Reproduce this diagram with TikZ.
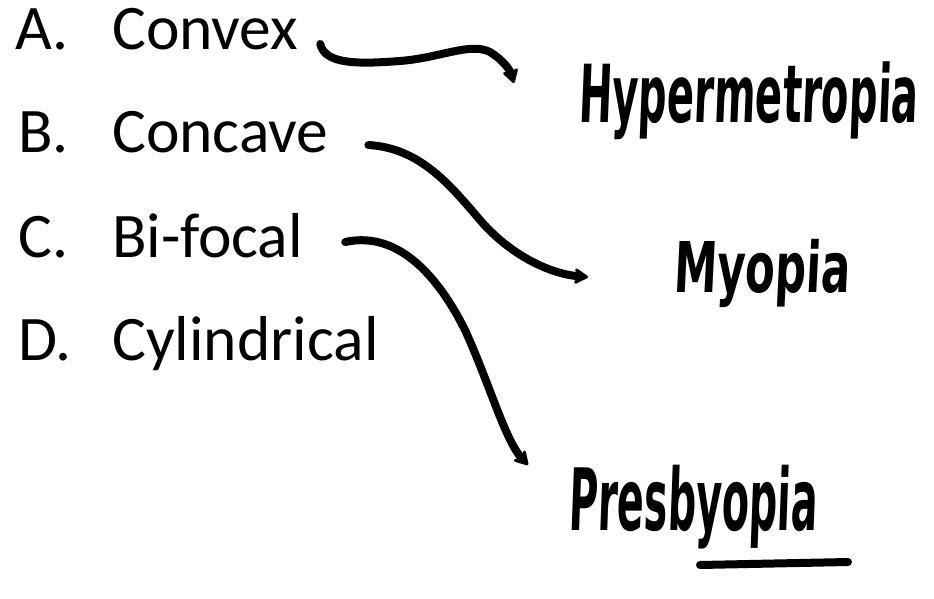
\documentclass[tikz,border=0pt]{standalone}
\usepackage{fontspec}
\setmainfont{Carlito}
\newfontfamily\handfont[FakeSlant=0.08]{DejaVu Sans Bold}
\usetikzlibrary{arrows.meta}

\begin{document}
\begin{tikzpicture}[x=1pt,y=-1pt,
  item/.style={inner sep=0pt,anchor=base west,font=\fontsize{63.5}{63.5}\selectfont},
  hand/.style={inner sep=0pt,anchor=base west,font=\handfont\fontsize{#1}{#1}\selectfont},
  stroke/.style={line width=8pt,line cap=round,line join=round},
  link/.style={stroke,-{Stealth[length=17pt,width=20pt,round]}}]
\useasboundingbox (0,0) rectangle (934,599);

% left column: the lens types
\node[item] (lA) at (15,50)  {A.};
\node[item] (lB) at (18,153) {B.};
\node[item] (lC) at (18,257) {C.};
\node[item] (lD) at (18,360) {D.};
\node[item] (wA) at (112,50)  {Convex};
\node[item] (wB) at (112,153) {Concave};
\node[item] (wC) at (112,257) {Bi-focal};
\node[item] (wD) at (112,360) {Cylindrical};

% right column: handwritten eye defects
\node[hand=80] (hyp) at (578,123) {\scalebox{0.50}[1]{Hypermetropia}};
\node[hand=70] (myo) at (673,292) {\scalebox{0.62}[1]{Myopia}};
\node[hand=86] (pre) at (568,530) {\scalebox{0.46}[1]{Presbyopia}};

% connector end points (xshift/yshift act on the page, so up is positive)
\coordinate (aS) at ([xshift=22pt,yshift=6pt]wA.base east);
\coordinate (aE) at ([xshift=-64pt,yshift=40pt]hyp.base west);
\coordinate (bS) at ([xshift=40pt,yshift=8pt]wB.base east);
\coordinate (bE) at ([xshift=-85pt,yshift=15pt]myo.base west);
\coordinate (cS) at ([xshift=42pt,yshift=15pt]wC.base east);
\coordinate (cE) at ([xshift=-40pt,yshift=65pt]pre.base west);

\draw[link] (aS) .. controls (325,65) and (360,64) .. (400,61)
  .. controls (440,58) and (470,42) .. (490,52)
  .. controls (503,60) and (510,70) .. (aE);
\draw[link] (bS) .. controls (420,148) and (450,185) .. (480,220)
  .. controls (510,255) and (550,274) .. (bE);
\draw[link] (cS) .. controls (400,230) and (440,280) .. (465,330)
  .. controls (490,385) and (505,440) .. (cE);

% underline beneath Presbyopia
\coordinate (u1) at ([xshift=132pt,yshift=-35pt]pre.base west);
\coordinate (u2) at ([xshift=280pt,yshift=-32pt]pre.base west);
\draw[stroke] (u1) -- (u2);
\end{tikzpicture}
\end{document}
